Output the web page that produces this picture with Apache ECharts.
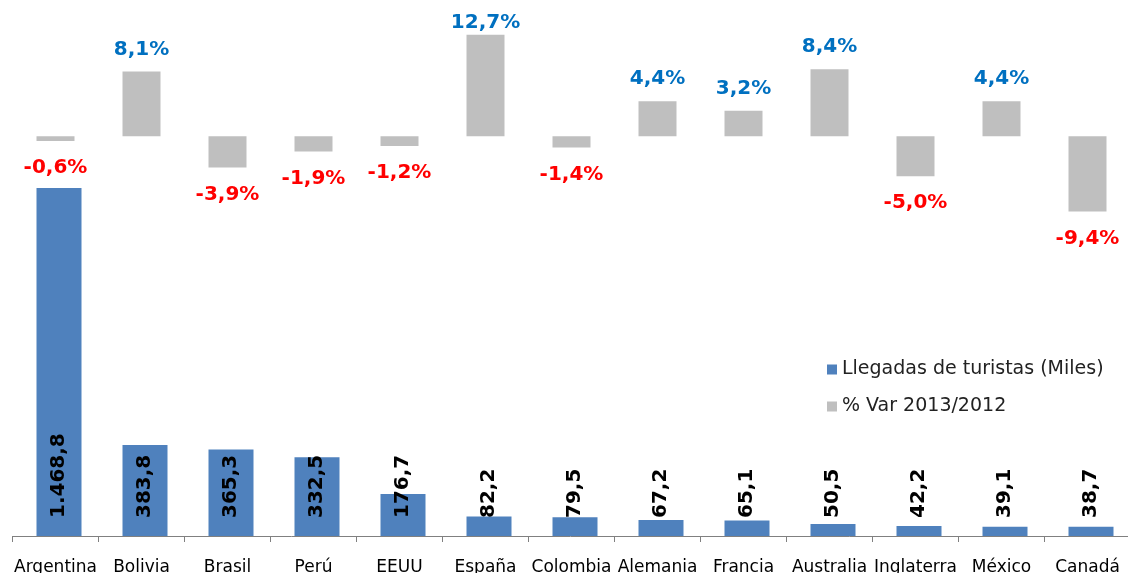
<!DOCTYPE html>
<html>
<head>
<meta charset="utf-8">
<script src="https://cdn.jsdelivr.net/npm/echarts@6/dist/echarts.min.js"></script>
<style>
  html, body { margin: 0; padding: 0; background: #fff; }
  #chart { width: 1128px; height: 573px; }
</style>
</head>
<body>
<div id="chart"></div>
<script>
'use strict';
const countries = ['Argentina', 'Bolivia', 'Brasil', 'Perú', 'EEUU', 'España', 'Colombia',
    'Alemania', 'Francia', 'Australia', 'Inglaterra', 'México', 'Canadá'];
const arrivals = [1468.8, 383.8, 365.3, 332.5, 176.7, 82.2, 79.5, 67.2, 65.1, 50.5, 42.2, 39.1, 38.7];
const variation = [-0.6, 8.1, -3.9, -1.9, -1.2, 12.7, -1.4, 4.4, 3.2, 8.4, -5.0, 4.4, -9.4];

function fmt(v, dec) {
    let s = v.toFixed(dec);
    let parts = s.split('.');
    let intPart = parts[0].replace(/\B(?=(\d{3})+(?!\d))/g, '.');
    return parts.length > 1 ? intPart + ',' + parts[1] : intPart;
}

let myChart = echarts.init(document.getElementById('chart'));

// labels above tall bars get squeezed against the top of the plot, like in Excel
let varData = variation.map(function (v) {
    let pos = v >= 0;
    return {
        value: v,
        label: {
            position: pos ? 'top' : 'bottom',
            distance: pos ? (v > 12 ? 2 : 12) : 17,
            color: pos ? '#0070C0' : '#FF0000'
        }
    };
});

let option = {
    animation: false,
    grid: {
        left: 12.5,
        width: 1118,
        top: 30,
        bottom: 37,
        outerBoundsMode: 'none'
    },
    legend: {
        orient: 'vertical',
        left: 822,
        top: 355,
        itemWidth: 10,
        itemHeight: 10,
        itemGap: 18,
        icon: 'rect',
        textStyle: {
            fontFamily: 'DejaVu Sans',
            fontSize: 19,
            color: '#222'
        },
        data: ['Llegadas de turistas (Miles)', '% Var 2013/2012']
    },
    xAxis: {
        type: 'category',
        data: countries,
        axisLine: { lineStyle: { color: '#808080' } },
        axisTick: { show: true, length: 6, lineStyle: { color: '#808080' } },
        axisLabel: {
            interval: 0,
            margin: 23,
            fontFamily: 'DejaVu Sans',
            fontSize: 17,
            color: '#000'
        }
    },
    yAxis: [{
        type: 'value',
        min: 0,
        max: 2135,
        show: false,
        splitLine: { show: false }
    }, {
        type: 'value',
        min: -50,
        max: 13.3,
        show: false,
        splitLine: { show: false }
    }],
    series: [{
        name: 'Llegadas de turistas (Miles)',
        type: 'bar',
        yAxisIndex: 0,
        data: arrivals,
        barWidth: 45,
        barGap: '-100%',
        itemStyle: { color: '#4F81BD' },
        label: {
            show: true,
            position: 'insideBottom',
            rotate: 90,
            align: 'left',
            verticalAlign: 'middle',
            distance: 18,
            fontFamily: 'DejaVu Sans',
            fontWeight: 'bold',
            fontSize: 20,
            color: '#000',
            formatter: function (p) { return fmt(p.value, 1); }
        }
    }, {
        name: '% Var 2013/2012',
        type: 'bar',
        yAxisIndex: 1,
        data: varData,
        barWidth: 38,
        itemStyle: { color: '#BFBFBF' },
        label: {
            show: true,
            fontFamily: 'DejaVu Sans',
            fontWeight: 'bold',
            fontSize: 20,
            formatter: function (p) { return fmt(p.value, 1) + '%'; }
        }
    }]
};

myChart.setOption(option);
</script>
</body>
</html>
